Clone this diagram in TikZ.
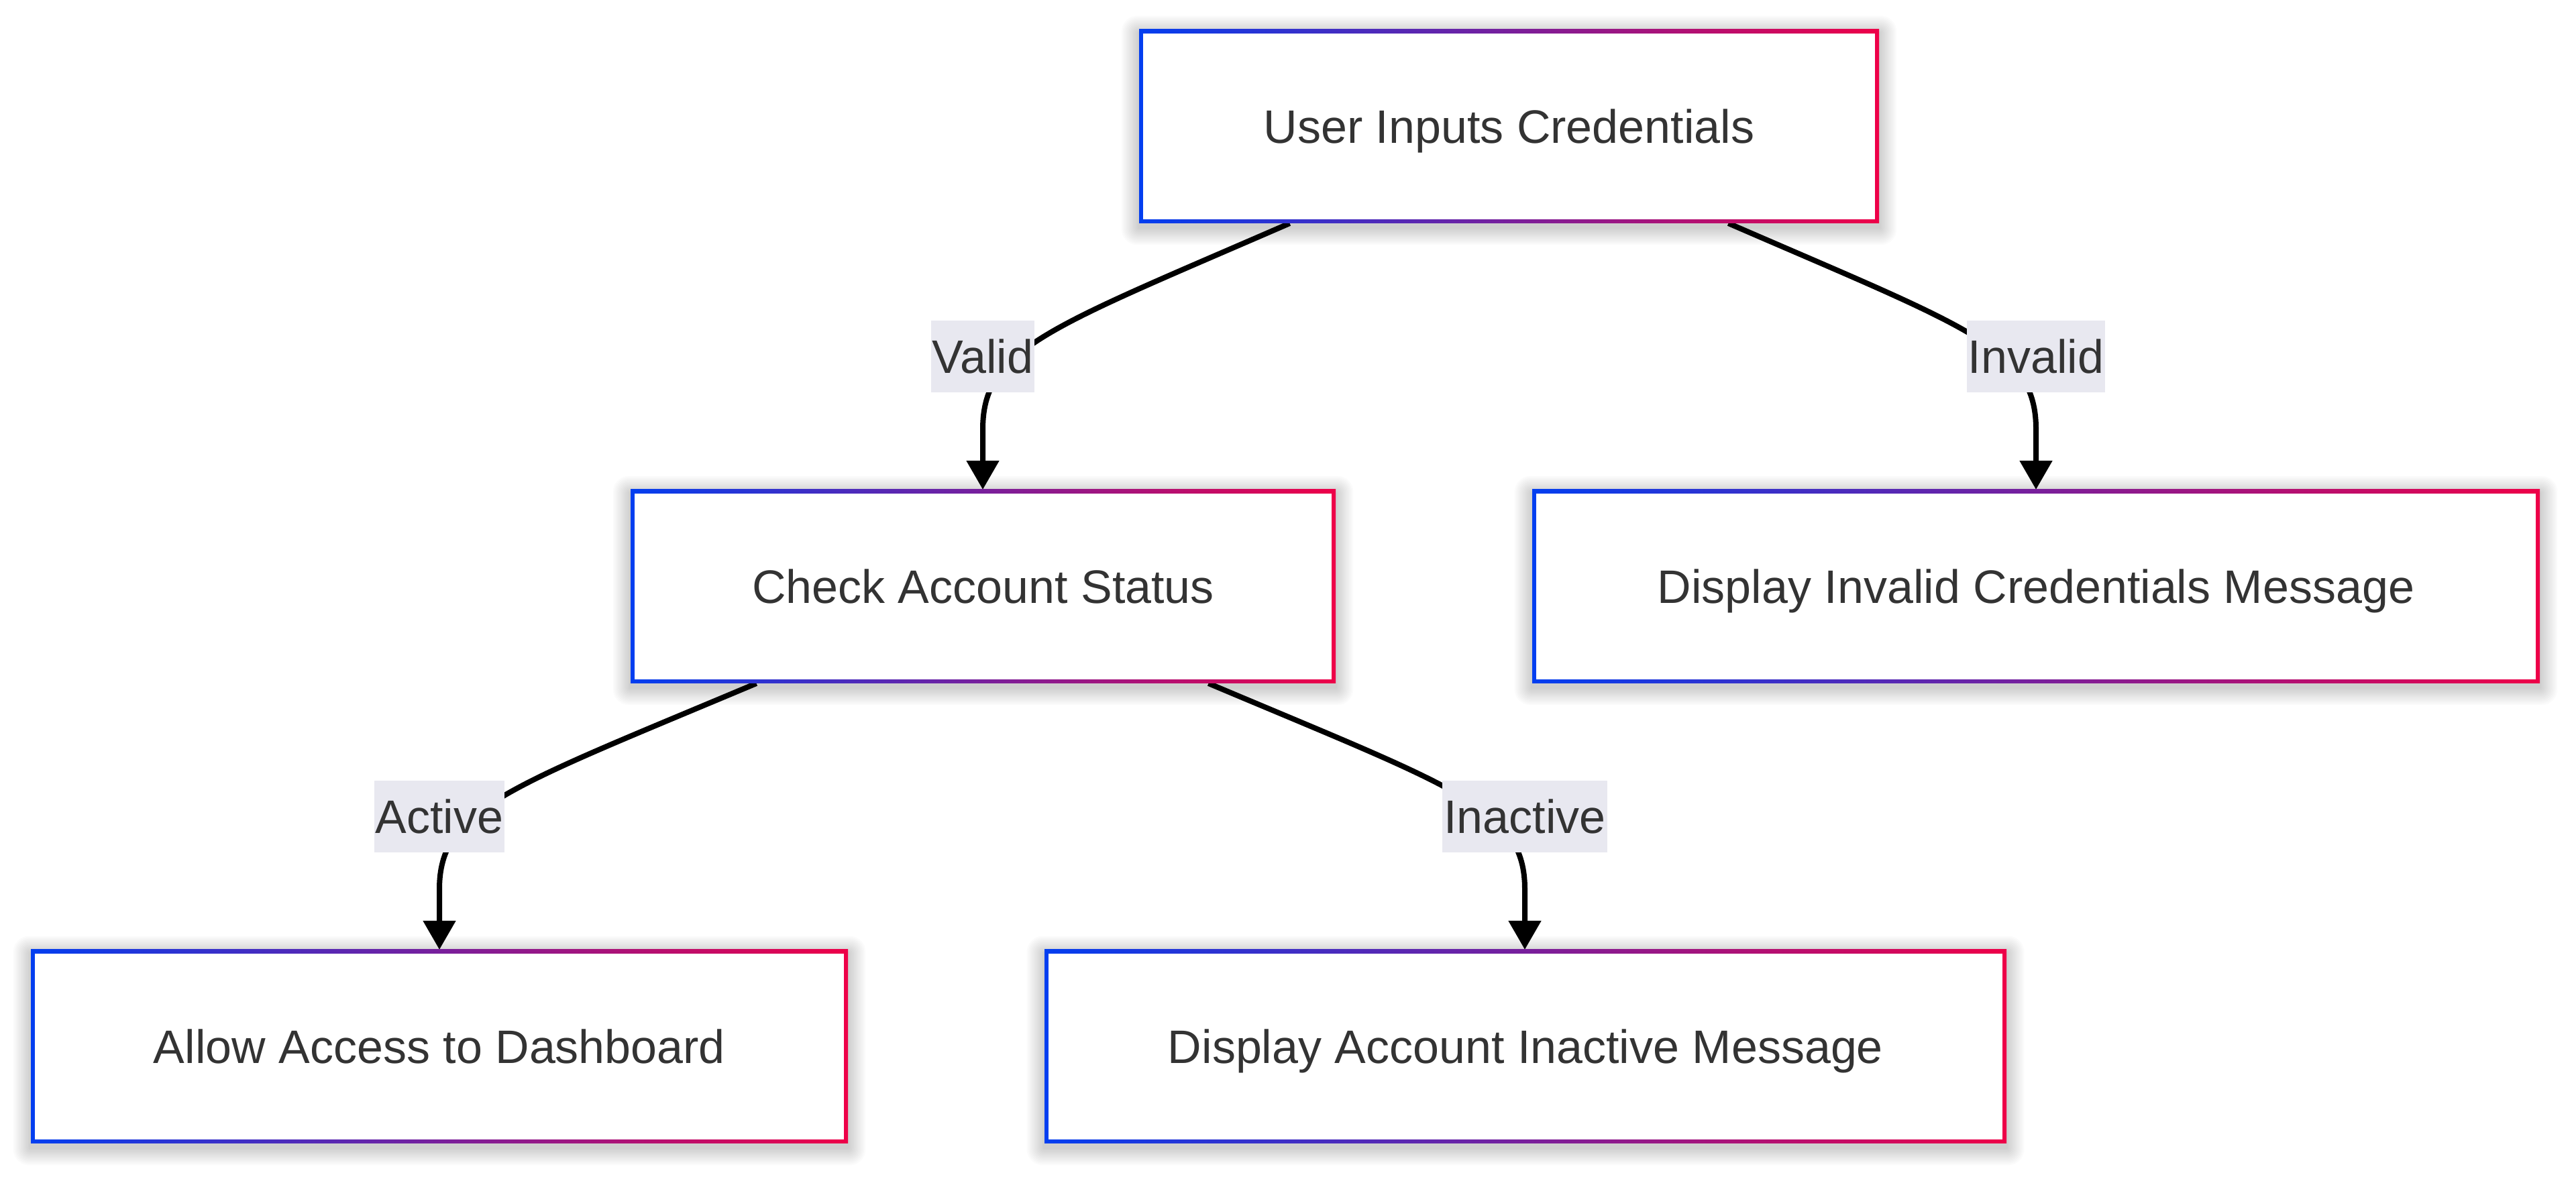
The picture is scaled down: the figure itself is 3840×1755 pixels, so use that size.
\documentclass[tikz,border=0pt]{standalone}
\usepackage{fontspec}
\setmainfont{Liberation Sans}
\usetikzlibrary{arrows.meta,calc}
\definecolor{gblue}{RGB}{2,62,240}
\definecolor{gred}{RGB}{238,0,72}
\definecolor{txt}{RGB}{51,51,51}
\definecolor{lblbg}{RGB}{232,232,240}
\pgfdeclarelayer{bg}
\pgfsetlayers{bg,main}
\begin{document}
\begin{tikzpicture}[x=1pt,y=1pt,
  box/.style={rectangle, minimum height=289pt, inner sep=0pt, outer sep=0pt,
    left color=gblue, right color=gred,
    path picture={\fill[white] ([xshift=6pt,yshift=6pt]path picture bounding box.south west) rectangle ([xshift=-6pt,yshift=-6pt]path picture bounding box.north east);},
    text=txt, font=\fontsize{70pt}{84pt}\selectfont, text height=50pt, text depth=0pt},
  lbl/.style={rectangle, fill=lblbg, minimum height=107pt, inner xsep=2pt, inner ysep=0pt, outer sep=0pt,
    text=txt, font=\fontsize{70pt}{84pt}\selectfont, text height=50pt, text depth=0pt},
  edge/.style={line width=8pt, draw=black, -{Triangle[length=43pt,width=47pt]}},
  shadowring/.style={fill=black, fill opacity=0.016}
]
\useasboundingbox (0,0) rectangle (3840,1755);
\begin{pgfonlayer}{bg}
\fill[white] (0,0) rectangle (3840,1755);
\end{pgfonlayer}

\node[box, minimum width=1103pt] (A) at (2249.5,1566.5) {User Inputs Credentials};
\node[box, minimum width=1051pt] (B) at (1465.5,880.5) {Check Account Status};
\node[box, minimum width=1502pt] (C) at (3035,880.5) {Display Invalid Credentials Message};
\node[box, minimum width=1218pt] (D) at (655,194.5) {Allow Access to Dashboard};
\node[box, minimum width=1434pt] (E) at (2274,194.5) {Display Account Inactive Message};

\node[lbl] (lv) at (1465,1223) {Valid};
\node[lbl] (li) at (3035,1223) {Invalid};
\node[lbl] (la) at (655,537) {Active};
\node[lbl] (ln) at (2273,537) {Inactive};

\begin{pgfonlayer}{bg}
\foreach \n in {A,B,C,D,E}{
  \foreach \k in {1,...,12}{
    \fill[shadowring, rounded corners=\k*2pt]
      ([xshift=-\k*2.2pt, yshift=-\k*2.2pt-6pt]\n.south west) rectangle
      ([xshift=\k*2.2pt, yshift=\k*2.2pt-6pt]\n.north east);
  }
}
\draw[edge] ($(A.south)+(-327pt,0pt)$) coordinate (s1)
  .. controls ($(s1)!0.79!(lv.center)$) and ($(lv.center)+(0pt,12pt)$) .. ($(lv.center)+(0pt,-108pt)$)
  -- (lv.center |- B.north);
\draw[edge] ($(A.south)+(327pt,0pt)$) coordinate (s2)
  .. controls ($(s2)!0.79!(li.center)$) and ($(li.center)+(0pt,12pt)$) .. ($(li.center)+(0pt,-108pt)$)
  -- (li.center |- C.north);
\draw[edge] ($(B.south)+(-338pt,0pt)$) coordinate (s3)
  .. controls ($(s3)!0.79!(la.center)$) and ($(la.center)+(0pt,12pt)$) .. ($(la.center)+(0pt,-108pt)$)
  -- (la.center |- D.north);
\draw[edge] ($(B.south)+(336pt,0pt)$) coordinate (s4)
  .. controls ($(s4)!0.79!(ln.center)$) and ($(ln.center)+(0pt,12pt)$) .. ($(ln.center)+(0pt,-108pt)$)
  -- (ln.center |- E.north);
\end{pgfonlayer}
\end{tikzpicture}
\end{document}
